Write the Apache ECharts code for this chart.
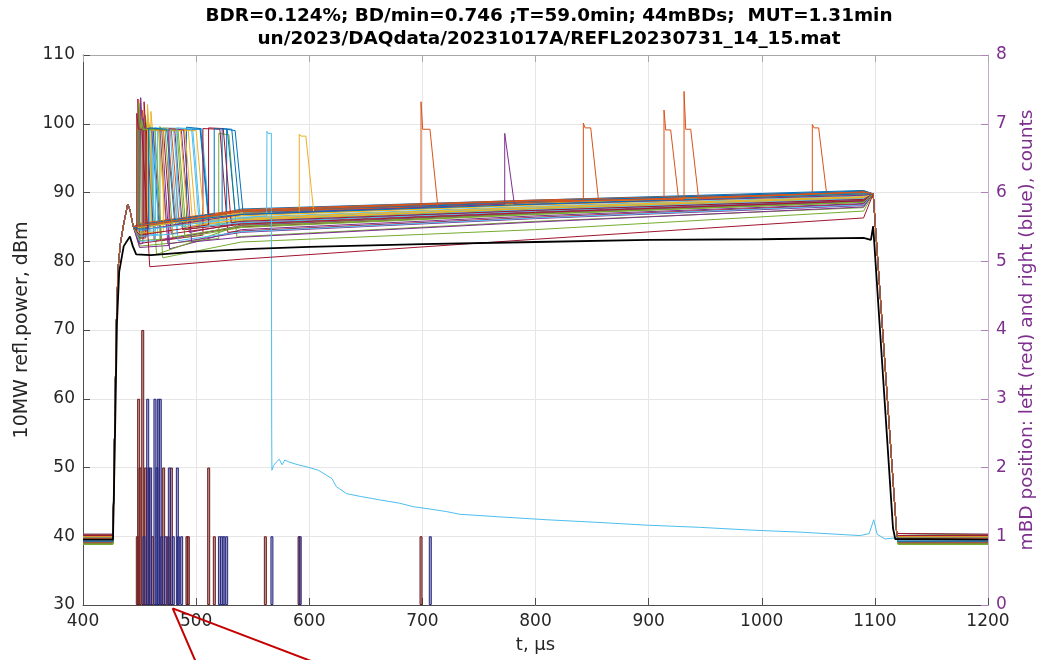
<!DOCTYPE html>
<html>
<head>
<meta charset="utf-8">
<title>REFL20230731_14_15</title>
<script src="https://cdn.jsdelivr.net/npm/echarts@6/dist/echarts.min.js"></script>
<style>
  html, body { margin: 0; padding: 0; background: #fff; }
  #chart { width: 1060px; height: 660px; }
</style>
</head>
<body>
<div id="chart"></div>
<script>
// MATLAB default line colour order, cycled over the pulses
const palette = ['#0072BD', '#D95319', '#EDB120', '#7E2F8E', '#77AC30', '#4DBEEE', '#A2142F'];

// Noise floor of each pulse before/after the RF pulse, dBm
const floorLvl = [39.6, 40.1, 39.2, 39.8, 39.4, 40.3, 39.0, 39.7, 40.0, 39.3,
                  39.9, 39.5, 40.2, 39.1, 39.6, 39.8, 39.3, 40.0, 38.9, 39.7,
                  39.4, 40.1, 39.5, 39.2, 39.9, 40.2, 39.6, 39.0, 39.8, 39.4,
                  40.0, 39.3, 38.9, 39.7, 40.3, 39.5, 39.1, 39.9, 39.6, 38.8,
                  39.4, 40.1, 39.2, 39.7];

// Leading edge and fill bump shared by the pulses (µs, dBm)
const riseT = [428, 429.5, 431, 433, 436, 439.5, 441.5, 444.5];
const riseP = [56, 71, 79, 82.5, 85.5, 88.3, 87.5, 85.0];

// Flat-top level of each pulse at 450, 540, 800 and 1090 µs
const anchorT = [450, 540, 800, 1090];
const lvlA = [85.6, 84.8, 84.6, 83.6, 83.8, 84.2, 83.0, 85.4, 84.9, 84.0,
              82.8, 83.4, 84.4, 83.5, 85.2, 85.5, 84.3, 83.2, 82.2, 83.8,
              82.6, 85.0, 85.3, 84.7, 82.5, 83.0, 82.9, 83.3, 84.9, 85.4,
              84.1, 82.0, 81.8, 83.6, 83.8, 85.3, 85.0, 84.9, 84.5, 83.2,
              null, 79.3, 84.7, 85.2];
const lvlB = [87.6, 87.0, 86.6, 85.6, 85.9, 86.4, 85.0, 87.4, 86.8, 86.0,
              84.6, 85.3, 86.2, 85.5, 87.2, 87.5, 86.3, 85.2, 83.6, 85.8,
              84.4, 87.1, 87.3, 86.7, 84.2, 84.9, 84.3, 85.4, 86.9, 87.4,
              86.1, 83.5, 82.8, 85.6, 85.8, 87.3, 87.2, 87.0, 86.8, 85.1,
              null, 80.3, 86.8, 87.3];
const lvlC = [88.9, 88.5, 88.2, 87.4, 87.6, 88.0, 86.9, 88.8, 88.3, 87.7,
              86.6, 87.0, 87.8, 87.2, 88.6, 88.9, 87.9, 87.0, 85.8, 87.5,
              86.4, 88.6, 88.7, 88.2, 86.2, 86.8, 86.3, 87.1, 88.4, 88.8,
              87.7, 85.7, 84.6, 87.3, 87.4, 88.7, 88.6, 88.4, 88.3, 86.9,
              null, 83.2, 88.3, 88.8];
const lvlD = [90.3, 89.8, 89.6, 89.0, 89.2, 89.5, 88.6, 90.1, 89.7, 89.2,
              88.4, 88.8, 89.3, 88.9, 90.0, 90.2, 89.4, 88.7, 87.8, 89.1,
              88.3, 89.9, 90.1, 89.7, 88.1, 88.6, 88.2, 88.8, 89.8, 90.1,
              89.3, 87.9, 87.3, 89.0, 89.0, 90.2, 90.0, 89.8, 89.6, 88.6,
              null, 86.3, 89.8, 90.1];

// Breakdown of each pulse: onset, end of the flat top (µs), spike and flat-top level,
// level just before the onset and level once the reflection has decayed (dBm)
const bdOn   = [449, 452.5, 450.5, 456, 455, 459, 448.5, 461, 453.5, 458,
                451, 448, 462.5, 454, 491.5, 1044.7, 457, 450, 520, 466,
                506, 527, 913.6, 460, 453, 468, 464, 455.5, 523, 842.3,
                471, 476, 449.5, 483, 511, 516, 698.8, 591.2, 772.8, 452,
                null, 447.5, 458, 931.3];
const bdOff  = [460.5, 475, 466.5, 487, 484, 497, 456, 503.5, 478, 493,
                469.5, 458, 505, 481, 504, 1050.3, 490, 462, 529, 480,
                521, 534.5, 919.5, 500, 468, 483, 477, 471, 531.5, 848.8,
                486, 489, 463.5, 496, 524, 527.5, 706.7, 597, 774.3, 472.5,
                null, 452, 474, 937.2];
const bdPeak = [102.5, 102.0, 103.5, 99.6, 101.2, 99.8, 103.6, 99.5, 99.8, 100.2,
                103.8, 99.5, 99.4, 103.2, 99.5, 99.9, 102.8, 99.4, 98.6, 99.3,
                99.3, 99.2, 102.0, 101.8, 100.8, 99.6, 99.5, 99.3, 99.3, 100.1,
                99.4, 99.3, 103.0, 99.4, 99.4, 99.3, 103.2, 98.5, 98.6, 100.5,
                null, 101.5, 99.4, 104.7];
const bdFlat = [99.3, 99.1, 99.2, 99.0, 99.2, 99.2, 99.2, 99.2, 99.2, 99.1,
                99.3, 99.1, 99.3, 99.3, 99.3, 99.4, 99.2, 99.2, 98.4, 99.3,
                99.2, 99.0, 99.1, 99.0, 99.2, 99.1, 99.2, 99.1, 99.2, 99.4,
                99.2, 99.1, 99.2, 99.2, 99.3, 99.2, 99.2, 98.2, 98.6, 99.2,
                null, 99.2, 99.2, 99.2];
const bdBase = [85.2, 84.8, 84.7, 83.6, 83.8, 84.2, 85.0, 85.4, 84.9, 84.0,
                83.0, 84.8, 84.4, 83.5, 86.0, 89.9, 84.3, 83.4, 83.3, 83.9,
                83.8, 86.8, 88.9, 84.7, 82.6, 83.2, 83.0, 83.4, 86.6, 88.6,
                84.3, 82.3, 84.5, 84.0, 85.3, 86.9, 87.9, 87.0, 88.3, 83.3,
                null, 84.5, 84.7, 89.0];
const bdBack = [84.8, 85.3, 85.0, 84.2, 84.6, 85.4, 83.0, 86.6, 85.6, 85.3,
                81.8, 81.0, 85.9, 84.6, 86.6, 89.9, 85.5, 83.0, 83.5, 85.0,
                84.2, 87.1, 89.0, 86.1, 82.5, 83.5, 83.0, 84.0, 86.9, 88.7,
                85.0, 82.8, 80.5, 85.0, 85.6, 87.2, 87.9, 87.1, 88.3, 83.5,
                null, 79.2, 85.8, 89.1];

// Trailing edge shared by the pulses
const endT = [1098.5, 1119.3];
const endP = [89.8, 40.4];

// Pulse 41: breakdown at 563 µs followed by the long low-level tail
const tailT = [450, 540, 562.3, 562.6, 563.6, 566.5, 566.8, 567.0, 568.5, 571,
               573.5, 576, 578.5, 582, 590, 600, 608, 615, 620, 624,
               633, 645, 662, 680, 692, 705, 721, 733, 770, 810,
               857, 900, 945, 990, 1034, 1087, 1095, 1099, 1102, 1109, 1119.5];
const tailP = [84.5, 86.3, 86.6, 98.9, 98.6, 98.6, 55.5, 49.6, 50.3, 50.8,
               51.2, 50.4, 51.1, 50.8, 50.4, 50.0, 49.6, 48.9, 48.4, 47.2,
               46.2, 45.8, 45.3, 44.8, 44.3, 44.0, 43.6, 43.2, 42.8, 42.4,
               42.0, 41.6, 41.3, 40.9, 40.6, 40.1, 40.4, 42.4, 40.3, 39.6, 39.8];

// Reference pulse without breakdown (black)
const refT = [400, 426.5, 428, 430, 432, 436, 441.5, 444, 447, 460, 500, 550, 600,
              700, 800, 900, 1000, 1090, 1096.5, 1098.5, 1116, 1118, 1200];
const refP = [39.5, 39.5, 52, 71, 78.5, 82.2, 83.6, 82.2, 81.0, 80.9, 81.4, 81.8, 82.1,
              82.5, 82.8, 83.1, 83.2, 83.4, 83.1, 85.1, 41.2, 39.6, 39.5];

// Breakdown position histogram (right axis): left (red) and right (blue)
const leftT  = [448.0, 449.2, 450.4, 452.8, 455.4, 458.3, 461.3, 471.3, 475.4, 478.1,
                491.9, 493.1, 511.1, 516.1, 561.2, 591.0, 698.8];
const leftN  = [1, 3, 2, 4, 2, 2, 1, 2, 1, 2, 1, 1, 2, 1, 1, 1, 1];
const rightT = [453.9, 457.2, 459.8, 463.6, 465.4, 466.6, 468.3, 469.6, 473.1, 476.3,
                479.8, 483.4, 484.3, 487.2, 520.6, 522.6, 524.6, 527.0, 567.0, 592.0, 707.0];
const rightN = [1, 3, 2, 3, 2, 3, 3, 1, 1, 2, 1, 2, 1, 1, 1, 1, 1, 1, 1, 1, 1];

// Red pointer lines below the time axis (µs, dBm)
const pointerT = [514.2, 479.3, 691.9];
const pointerP = [16.2, 29.5, 16.2];

const titleLines = [
  'BDR=0.124%; BD/min=0.746 ;T=59.0min; 44mBDs;  MUT=1.31min',
  'un/2023/DAQdata/20231017A/REFL20230731_14_15.mat'
];

const FONT = '"DejaVu Sans", sans-serif';
const TXT = '#262626';
const AX = '#4d4d4d';
const PURPLE = '#7E2F8E';

function leadIn(i) {
  const pts = [[400, floorLvl[i]], [426.5, floorLvl[i]]];
  riseT.forEach((t, k) => pts.push([t, riseP[k]]));
  return pts;
}
function leadOut(i) {
  const pts = endT.map((t, k) => [t, endP[k]]);
  pts.push([1120.5, floorLvl[i]], [1200, floorLvl[i]]);
  return pts;
}

function pulse(i) {
  const pts = leadIn(i);
  const lv = [lvlA[i], lvlB[i], lvlC[i], lvlD[i]];
  const on = bdOn[i], off = bdOff[i], back = off + 7;
  anchorT.forEach((t, k) => { if (t < on) pts.push([t, lv[k]]); });
  pts.push([on, bdBase[i]], [on, bdPeak[i]], [on + 1.5, bdFlat[i]],
           [off, bdFlat[i]], [back, bdBack[i]]);
  anchorT.forEach((t, k) => { if (t > back) pts.push([t, lv[k]]); });
  return pts.concat(leadOut(i));
}

function tailPulse(i) {
  const pts = leadIn(i);
  tailT.forEach((t, k) => pts.push([t, tailP[k]]));
  pts.push([1120.5, floorLvl[i]], [1200, floorLvl[i]]);
  return pts;
}

const series = [];
for (let i = 0; i < floorLvl.length; i++) {
  series.push({
    type: 'line',
    data: bdOn[i] === null ? tailPulse(i) : pulse(i),
    symbol: 'none',
    silent: true,
    lineStyle: { width: 1, color: palette[i % palette.length] },
    z: 2
  });
}
series.push({
  type: 'line',
  data: refT.map((t, k) => [t, refP[k]]),
  symbol: 'none',
  silent: true,
  lineStyle: { width: 1.8, color: '#000000' },
  z: 3
});
series.push({
  type: 'bar',
  xAxisIndex: 0, yAxisIndex: 1,
  data: leftT.map((t, k) => [t, leftN[k]]),
  barWidth: 3, barGap: '-100%',
  silent: true,
  itemStyle: { color: 'rgba(150,70,70,0.55)', borderColor: '#6b1a1a', borderWidth: 1 },
  z: 4
});
series.push({
  type: 'bar',
  xAxisIndex: 0, yAxisIndex: 1,
  data: rightT.map((t, k) => [t, rightN[k]]),
  barWidth: 3, barGap: '-100%',
  silent: true,
  itemStyle: { color: 'rgba(80,80,165,0.5)', borderColor: '#26267a', borderWidth: 1 },
  z: 4
});
series.push({
  type: 'line',
  data: pointerT.map((t, k) => [t, pointerP[k]]),
  symbol: 'none',
  silent: true,
  clip: false,
  lineStyle: { width: 2, color: '#c40000' },
  z: 6
});

const chart = echarts.init(document.getElementById('chart'), null, { renderer: 'canvas' });
chart.setOption({
  animation: false,
  backgroundColor: '#ffffff',
  textStyle: { fontFamily: FONT },
  grid: { left: 83, right: 72, top: 55, bottom: 55, containLabel: false, outerBoundsMode: 'none' },
  xAxis: [{
    type: 'value', min: 400, max: 1200, interval: 100, position: 'bottom',
    name: 't, μs', nameLocation: 'middle', nameGap: 31,
    nameTextStyle: { fontSize: 18, color: TXT, fontFamily: FONT },
    axisLine: { show: true, onZero: false, lineStyle: { color: AX, width: 1 } },
    axisTick: { show: true, inside: true, length: 7, lineStyle: { color: AX } },
    axisLabel: { fontSize: 17, color: TXT, margin: 8, fontFamily: FONT,
                 formatter: v => String(v) },
    splitLine: { show: true, lineStyle: { color: '#e6e6e6', width: 1 } }
  }, {
    type: 'value', min: 400, max: 1200, interval: 100, position: 'top',
    axisLine: { show: true, onZero: false, lineStyle: { color: '#a8a8a8', width: 1 } },
    axisTick: { show: true, inside: true, length: 7, lineStyle: { color: '#a8a8a8' } },
    axisLabel: { show: false },
    splitLine: { show: false }
  }],
  yAxis: [{
    type: 'value', min: 30, max: 110, interval: 10, position: 'left',
    name: '10MW refl.power, dBm', nameLocation: 'middle', nameGap: 40, nameRotate: 90,
    nameTextStyle: { fontSize: 19, color: TXT, fontFamily: FONT },
    axisLine: { show: true, onZero: false, lineStyle: { color: AX, width: 1 } },
    axisTick: { show: true, inside: true, length: 7, lineStyle: { color: AX } },
    axisLabel: { fontSize: 17, color: TXT, margin: 8, fontFamily: FONT },
    splitLine: { show: true, lineStyle: { color: '#e6e6e6', width: 1 } }
  }, {
    type: 'value', min: 0, max: 8, interval: 1, position: 'right',
    name: 'mBD position: left (red) and right (blue), counts',
    nameLocation: 'middle', nameGap: 28, nameRotate: 90,
    nameTextStyle: { fontSize: 18.5, color: PURPLE, fontFamily: FONT },
    axisLine: { show: true, onZero: false, lineStyle: { color: '#c9a6d1', width: 1 } },
    axisTick: { show: true, inside: true, length: 7, lineStyle: { color: '#b184bc' } },
    axisLabel: { fontSize: 17, color: PURPLE, margin: 8, fontFamily: FONT },
    splitLine: { show: false }
  }],
  graphic: titleLines.map((line, k) => ({
    type: 'text',
    x: 549, y: 7 + k * 23,
    silent: true,
    style: {
      text: line, fill: '#000000',
      font: 'bold 18.4px ' + FONT,
      textAlign: 'center', textVerticalAlign: 'top'
    }
  })),
  series: series
});
</script>
</body>
</html>
